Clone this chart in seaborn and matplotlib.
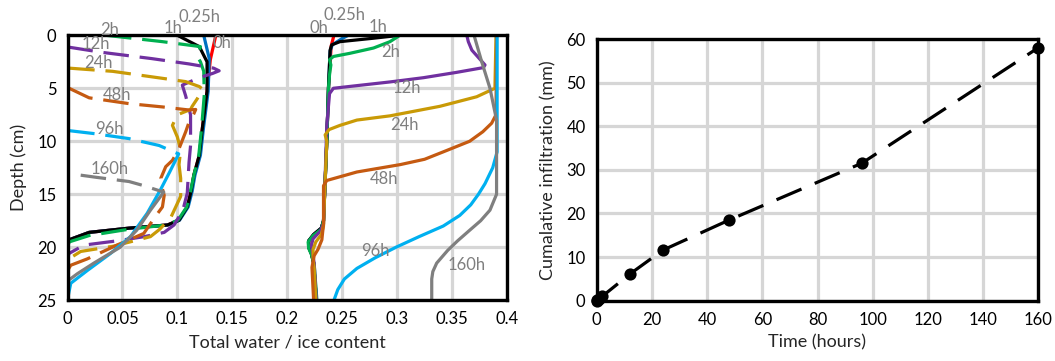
import matplotlib
matplotlib.use("Agg")
import matplotlib.pyplot as plt
import matplotlib.ticker as mticker
import numpy as np
import pandas as pd
import seaborn as sns

# ---------------- data ----------------
times = ["0h", "0.25h", "1h", "2h", "12h", "24h", "48h", "96h", "160h"]
palette = ["#FF0000", "#0070C0", "#000000", "#00B050", "#7030A0",
           "#C99A06", "#C55A11", "#00B0F0", "#7F7F7F"]

# total water content profiles (solid lines) : depth (cm), value
w_depth_0h = [0, 1.0, 5, 10, 15, 17.5, 18.2, 18.8, 19.4, 20.0, 20.6, 21.5, 25]
w_val_0h = [0.2425, 0.2400, 0.2375, 0.2360, 0.2340, 0.2330, 0.2310, 0.2240, 0.2195, 0.2195, 0.2220, 0.2240, 0.2265]
w_depth_025h = [0, 0.3, 0.9, 1.5, 5, 10, 15, 17.5, 18.2, 18.8, 19.4, 20.0, 20.6, 21.5, 25]
w_val_025h = [0.2555, 0.2500, 0.2410, 0.2390, 0.2375, 0.2360, 0.2340, 0.2330, 0.2310, 0.2240, 0.2195, 0.2195, 0.2220, 0.2240, 0.2265]
w_depth_1h = [0, 0.28, 0.6, 0.9, 1.4, 5, 10, 15, 17.5, 18.2, 18.8, 19.4, 20.0, 20.6, 21.5, 25]
w_val_1h = [0.3025, 0.2780, 0.2480, 0.2405, 0.2390, 0.2375, 0.2360, 0.2340, 0.2330, 0.2310, 0.2240, 0.2195, 0.2195, 0.2220, 0.2240, 0.2265]
w_depth_2h = [0, 0.6, 1.2, 1.7, 2.0, 2.3, 2.8, 3.7, 5, 10, 15, 17.5, 18.3, 18.9, 19.5, 20.1, 20.7, 21.6, 25]
w_val_2h = [0.3025, 0.2935, 0.2785, 0.2570, 0.2420, 0.2385, 0.2397, 0.2385, 0.2375, 0.2360, 0.2340, 0.2330, 0.2310, 0.2235, 0.2190, 0.2195, 0.2220, 0.2245, 0.2270]
w_depth_12h = [0, 0.6, 1.4, 2.8, 3.05, 3.5, 4.0, 4.4, 4.75, 5.0, 5.5, 8.5, 15, 17.8, 18.5, 19.2, 19.8, 20.5, 21.5, 25]
w_val_12h = [0.3634, 0.3648, 0.3680, 0.3800, 0.3785, 0.3540, 0.3240, 0.2936, 0.2634, 0.2420, 0.2385, 0.2360, 0.2340, 0.2330, 0.2300, 0.2235, 0.2220, 0.2230, 0.2245, 0.2265]
w_depth_24h = [0, 5.0, 5.8, 6.7, 7.6, 8.0, 8.5, 8.9, 9.4, 10.0, 15, 18.0, 18.8, 19.5, 20.2, 21.0, 22.0, 25]
w_val_24h = [0.3900, 0.3890, 0.3724, 0.3390, 0.2936, 0.2634, 0.2480, 0.2380, 0.2345, 0.2360, 0.2340, 0.2330, 0.2310, 0.2260, 0.2235, 0.2235, 0.2245, 0.2260]
w_depth_48h = [0, 7.5, 8.3, 9.1, 10.0, 11.0, 11.7, 12.2, 12.9, 13.7, 14.2, 17.8, 19.3, 20.2, 20.8, 21.9, 25]
w_val_48h = [0.3905, 0.3900, 0.3860, 0.3780, 0.3660, 0.3420, 0.3250, 0.3030, 0.2634, 0.2360, 0.2330, 0.2330, 0.2315, 0.2280, 0.2245, 0.2225, 0.2240]
w_depth_96h = [0, 11.0, 12.5, 14.0, 15.0, 16.0, 17.0, 18.0, 19.0, 20.0, 21.0, 22.0, 23.0, 24.0, 25.0]
w_val_96h = [0.3910, 0.3910, 0.3870, 0.3800, 0.3740, 0.3670, 0.3570, 0.3420, 0.3200, 0.2990, 0.2800, 0.2634, 0.2520, 0.2460, 0.2425]
w_depth_160h = [0, 2.5, 5.0, 8.0, 15.0, 16.5, 17.5, 18.4, 19.4, 20.3, 21.5, 22.3, 23.0, 25]
w_val_160h = [0.3700, 0.3770, 0.3845, 0.3905, 0.3905, 0.3845, 0.3760, 0.3660, 0.3550, 0.3460, 0.3360, 0.3325, 0.3315, 0.3315]

# ice content profiles : solid parts and dashed parts
i_depth_0h = [0, 2.3, 5.3, 8.8, 11.3, 13.2, 14.7, 16.2, 17.45, 17.9, 18.2, 18.6, 19.3, 20.0, 25]
i_val_0h = [0.1350, 0.1300, 0.1270, 0.1227, 0.1200, 0.1150, 0.1125, 0.1090, 0.1015, 0.0910, 0.0560, 0.0197, 0.0015, 0.0, 0.0]
i_depth_025h = [0, 2.2, 5.3, 8.8, 11.3, 13.2, 14.7, 16.2, 17.45, 17.9, 18.2, 18.6, 19.3, 20.0, 25]
i_val_025h = [0.1240, 0.1290, 0.1280, 0.1237, 0.1210, 0.1160, 0.1135, 0.1098, 0.1020, 0.0915, 0.0560, 0.0197, 0.0015, 0.0, 0.0]
i_depth_1h = [0, 1.07, 2.5, 5.3, 8.8, 11.3, 13.2, 14.7, 16.2, 17.45, 17.9, 18.2, 18.6, 19.3, 20.0, 25]
i_val_1h = [0.1000, 0.1200, 0.1270, 0.1270, 0.1227, 0.1200, 0.1150, 0.1125, 0.1090, 0.1015, 0.0910, 0.0560, 0.0197, 0.0015, 0.0, 0.0]
i_depth_2h = [0, 0.6, 1.07, 2.0, 2.5, 3.4, 5.6, 8.8, 11.3, 13.2, 14.7, 16.2, 17.45, 17.9, 18.3, 18.9, 19.5, 20.0, 25]
i_val_2h = [0.0350, 0.0864, 0.1210, 0.1180, 0.1210, 0.1240, 0.1245, 0.1220, 0.1195, 0.1150, 0.1120, 0.1085, 0.1005, 0.0900, 0.0560, 0.0197, 0.0015, 0.0, 0.0]
i_depth_12h = [1.1, 1.6, 2.2, 2.7, 3.1, 3.35, 3.6, 4.0, 4.7, 5.7, 7.5, 10.4, 12.0, 14.9, 16.5, 17.9, 18.6, 19.0, 19.4, 19.8, 20.6, 21.2, 25]
i_val_12h = [0.0, 0.0307, 0.0767, 0.1105, 0.1330, 0.1380, 0.1320, 0.1200, 0.1045, 0.1075, 0.1120, 0.1120, 0.1106, 0.1090, 0.1050, 0.0970, 0.0880, 0.0700, 0.0450, 0.0150, 0.0012, 0.0, 0.0]
i_depth_24h = [3.1, 3.4, 4.06, 4.37, 4.84, 5.1, 6.0, 6.7, 7.0, 7.5, 8.5, 9.6, 10.8, 12.2, 13.5, 15.2, 17.2, 18.3, 19.0, 19.9, 20.4, 21.1, 25]
i_val_24h = [0.0015, 0.0410, 0.0864, 0.1075, 0.1200, 0.1230, 0.1180, 0.1135, 0.1120, 0.1000, 0.0955, 0.1000, 0.1030, 0.1015, 0.1030, 0.1030, 0.0940, 0.0840, 0.0755, 0.0420, 0.0120, 0.0012, 0.0]
i_depth_48h = [5.0, 5.9, 6.45, 6.76, 7.05, 7.0, 7.4, 8.2, 9.1, 10.7, 11.8, 12.4, 13.5, 14.5, 15.1, 16.2, 17.1, 18.7, 19.8, 21.1, 21.7, 22.2, 25]
i_val_48h = [0.0015, 0.0197, 0.0560, 0.0864, 0.1106, 0.1167, 0.1150, 0.1106, 0.1076, 0.1015, 0.0955, 0.0894, 0.0849, 0.0864, 0.0880, 0.0864, 0.0800, 0.0694, 0.0450, 0.0180, 0.0030, 0.0, 0.0]
i_depth_96h_dash = [9.0, 9.3, 9.75, 10.4, 11.2]
i_val_96h_dash = [0.0015, 0.0260, 0.0560, 0.0834, 0.1012]
i_depth_96h = [11.2, 12.9, 14.6, 16.8, 19.0, 20.6, 22.2, 23.4, 24.3, 25]
i_val_96h = [0.1012, 0.0930, 0.0845, 0.0725, 0.0573, 0.0390, 0.0180, 0.0030, 0.0012, 0.0]
i_depth_160h_dash = [13.2, 13.4, 13.8, 14.15, 14.8]
i_val_160h_dash = [0.0120, 0.0260, 0.0560, 0.0680, 0.0876]
i_depth_160h = [14.8, 16.5, 18.4, 20.0, 21.5, 22.5, 23.1, 25]
i_val_160h = [0.0876, 0.0755, 0.0630, 0.0480, 0.0240, 0.0090, 0.0012, 0.0]

# curve labels (text, x, depth)
left_labels = [("2h", 0.038, -0.5), ("1h", 0.096, -0.7), ("0.25h", 0.1197, -1.7),
               ("0h", 0.141, 0.75), ("12h", 0.026, 0.8), ("24h", 0.028, 2.6),
               ("48h", 0.045, 5.6), ("96h", 0.038, 8.8), ("160h", 0.038, 12.6)]
right_labels = [("0h", 0.2287, -0.65), ("0.25h", 0.2517, -1.9), ("1h", 0.2824, -0.8),
                ("2h", 0.2938, 1.6), ("12h", 0.3085, 5.0), ("24h", 0.307, 8.45),
                ("48h", 0.288, 13.6), ("96h", 0.280, 20.4), ("160h", 0.3629, 21.7)]

# cumulative infiltration
inf_time = [0, 0.25, 1, 2, 12, 24, 48, 96, 160]
inf_mm = [0, 0.1, 0.5, 1.0, 6.1, 11.6, 18.5, 31.5, 58.0]

x_ticks_left = [0, 0.05, 0.1, 0.15, 0.2, 0.25, 0.3, 0.35, 0.4]
x_tick_labels_left = ["0", "0.05", "0.1", "0.15", "0.2", "0.25", "0.3", "0.35", "0.4"]

# ---------------- style ----------------
sns.set_theme(style="white")
plt.rcParams['font.family'] = ['Lato', 'DejaVu Sans']
plt.rcParams['text.color'] = '#000000'

fig = plt.figure(figsize=(10.55, 3.61), dpi=100)
W, H = 1055, 361
axL = fig.add_axes([67.5 / W, 1 - 300.2 / H, (507 - 67.5) / W, (300.2 - 35.3) / H])
axR = fig.add_axes([596.7 / W, 1 - 300.7 / H, (1038.3 - 596.7) / W, (300.7 - 39) / H])

LW = 2.3
DASH = (0, (8.0, 3.4))
grid_c = "#D6D6D6"

water = {
    "0h": (w_depth_0h, w_val_0h), "0.25h": (w_depth_025h, w_val_025h),
    "1h": (w_depth_1h, w_val_1h), "2h": (w_depth_2h, w_val_2h),
    "12h": (w_depth_12h, w_val_12h), "24h": (w_depth_24h, w_val_24h),
    "48h": (w_depth_48h, w_val_48h), "96h": (w_depth_96h, w_val_96h),
    "160h": (w_depth_160h, w_val_160h),
}
ice_solid = {
    "0h": (i_depth_0h, i_val_0h), "0.25h": (i_depth_025h, i_val_025h),
    "1h": (i_depth_1h, i_val_1h), "96h": (i_depth_96h, i_val_96h),
    "160h": (i_depth_160h, i_val_160h),
}
ice_dash = {
    "2h": (i_depth_2h, i_val_2h), "12h": (i_depth_12h, i_val_12h),
    "24h": (i_depth_24h, i_val_24h), "48h": (i_depth_48h, i_val_48h),
    "96h": (i_depth_96h_dash, i_val_96h_dash), "160h": (i_depth_160h_dash, i_val_160h_dash),
}


def draw(ax, d, v, color, dashed):
    df = pd.DataFrame({"depth": d, "content": v})
    kw = dict(linestyle=DASH) if dashed else {}
    sns.lineplot(data=df, x="content", y="depth", sort=False, estimator=None,
                 color=color, lw=LW, ax=ax, legend=False, **kw)


for t, c in zip(times, palette):
    if t in ice_solid:
        draw(axL, *ice_solid[t], c, False)
    if t in ice_dash:
        draw(axL, *ice_dash[t], c, True)
    draw(axL, *water[t], c, False)

axL.set_xlim(0, 0.4)
axL.set_ylim(25, 0)
axL.set_xticks(x_ticks_left)
axL.xaxis.set_major_formatter(mticker.FixedFormatter(x_tick_labels_left))
axL.set_yticks([0, 5, 10, 15, 20, 25])
axL.set_xlabel("Total water / ice content", fontsize=13, labelpad=5)
axL.set_ylabel("Depth (cm)", fontsize=13, labelpad=7)
for txt, x, y in left_labels + right_labels:
    axL.text(x, y, txt, color="#7F7F7F", fontsize=12, ha="center", va="center", zorder=5)

# right chart
dfi = pd.DataFrame({"time": inf_time, "inf": inf_mm})
sns.lineplot(data=dfi, x="time", y="inf", sort=False, estimator=None, color="black",
             lw=LW, linestyle=(0, (8.5, 4.5)), marker="o", markersize=8.8,
             markeredgewidth=0, ax=axR, legend=False, clip_on=False, zorder=4)
axR.set_xlim(0, 160)
axR.set_ylim(0, 60)
axR.set_xticks(range(0, 161, 20))
axR.set_yticks(range(0, 61, 10))
axR.set_xlabel("Time (hours)", fontsize=13, labelpad=5)
axR.set_ylabel("Cumalative infiltration (mm)", fontsize=13, labelpad=7)

for ax in (axL, axR):
    ax.set_axisbelow(True)
    ax.grid(True, color=grid_c, lw=2.3)
    for s in ax.spines.values():
        s.set_color("black")
        s.set_linewidth(2.4)
        s.set_visible(True)
        s.set_zorder(3)
    ax.tick_params(axis="both", direction="in", length=4, width=2, colors="black",
                   labelsize=12, pad=8, labelcolor="black")
    ax.set_facecolor("white")

fig.savefig("out.png", dpi=100, facecolor="white")
